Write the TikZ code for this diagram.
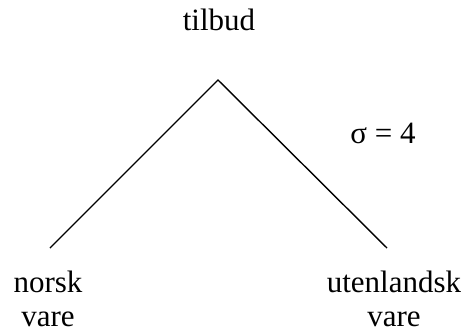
\documentclass[tikz,border=0pt]{standalone}
\usepackage{fontspec}
\setmainfont{Liberation Serif}
\usetikzlibrary{positioning}

\begin{document}
\begin{tikzpicture}[x=1pt, y=-1pt, font=\fontsize{31}{34}\selectfont,
  lbl/.style={align=center, inner sep=0pt, anchor=base},
  edge/.style={line width=1.4pt}]
\useasboundingbox (0,0) rectangle (466,333);
\node[lbl] (top) at (219,30) {tilbud};
\coordinate (apex) at (218,80);
\coordinate (lend) at (50,248);
\coordinate (rend) at (387,248);
\draw[edge] (lend) -- (apex) -- (rend);
\node[lbl] (sigma) at (383,143) {σ = 4};
% leaves
\node[lbl] (norsk) at (48,326) {norsk\\vare};
\node[lbl] (uten) at (394,326) {utenlandsk\\vare};
\end{tikzpicture}
\end{document}
